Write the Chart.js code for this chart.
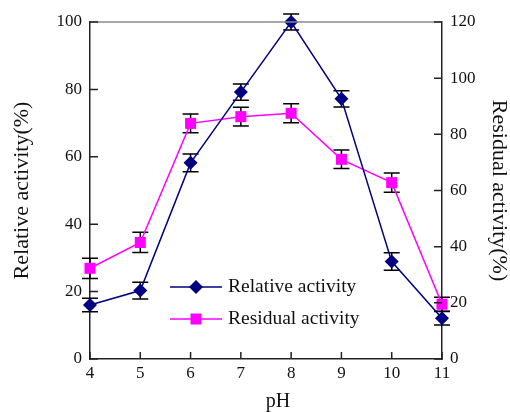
<!DOCTYPE html>
<html>
<head>
<meta charset="utf-8">
<script src="https://cdn.jsdelivr.net/npm/chart.js@4"></script>
<style>
  html, body { margin: 0; padding: 0; background: #fff; }
  #wrap { width: 510px; height: 412px; position: relative; }
</style>
</head>
<body>
<div id="wrap"><canvas id="chart"></canvas></div>
<script>
const phValues = [4, 5, 6, 7, 8, 9, 10, 11];
const relativeActivity = [16, 20.3, 58.2, 79.2, 100, 77.2, 28.9, 12.1];
const relativeError = [2.0, 2.5, 2.6, 2.4, 2.4, 2.4, 2.6, 2.0];
const residualActivity = [32.3, 41.5, 83.9, 86.3, 87.5, 71.1, 62.8, 19.5];
const residualError = [3.6, 3.6, 3.3, 3.3, 3.4, 3.3, 3.4, 2.5];
const leftTicks = [0, 20, 40, 60, 80, 100];
const rightTicks = [0, 20, 40, 60, 80, 100, 120];

const serif = "'Liberation Serif', 'Times New Roman', serif";
const navy = '#000080';
const magenta = '#FF00FF';

// error bars, drawn under the markers
const errorBars = {
  id: 'errorBars',
  beforeDatasetsDraw(chart) {
    const ctx = chart.ctx;
    ctx.save();
    ctx.strokeStyle = '#000';
    ctx.lineWidth = 1.5;
    chart.data.datasets.forEach((ds, di) => {
      const meta = chart.getDatasetMeta(di);
      const scale = chart.scales[ds.yAxisID];
      ds.data.forEach((p, i) => {
        const x = meta.data[i].x;
        const top = scale.getPixelForValue(p.y + ds.errors[i]);
        const bot = scale.getPixelForValue(p.y - ds.errors[i]);
        ctx.beginPath();
        ctx.moveTo(x, top); ctx.lineTo(x, bot);
        ctx.moveTo(x - 8, top); ctx.lineTo(x + 8, top);
        ctx.moveTo(x - 8, bot); ctx.lineTo(x + 8, bot);
        ctx.stroke();
      });
    });
    ctx.restore();
  }
};

// frame, inward tick marks and the pH title
const frame = {
  id: 'frame',
  afterDraw(chart) {
    const ctx = chart.ctx;
    const a = chart.chartArea;
    ctx.save();
    ctx.strokeStyle = '#888';
    ctx.lineWidth = 1.5;
    ctx.beginPath();
    ctx.moveTo(a.left, a.top); ctx.lineTo(a.right, a.top);
    ctx.stroke();
    ctx.strokeStyle = '#222';
    ctx.beginPath();
    phValues.forEach(v => {
      const x = chart.scales.x.getPixelForValue(v);
      ctx.moveTo(x, a.bottom); ctx.lineTo(x, a.bottom - 7);
    });
    leftTicks.forEach(v => {
      const y = chart.scales.y.getPixelForValue(v);
      ctx.moveTo(a.left, y); ctx.lineTo(a.left + 8, y);
    });
    rightTicks.forEach(v => {
      const y = chart.scales.y2.getPixelForValue(v);
      ctx.moveTo(a.right, y); ctx.lineTo(a.right - 8, y);
    });
    ctx.stroke();
    ctx.fillStyle = '#111';
    ctx.font = '20px ' + serif;
    ctx.textAlign = 'center';
    ctx.textBaseline = 'middle';
    ctx.fillText('pH', 278, 402);
    ctx.restore();
  }
};

// legend inside the plot
const innerLegend = {
  id: 'innerLegend',
  afterDraw(chart) {
    const ctx = chart.ctx;
    ctx.save();
    chart.data.datasets.forEach((ds, i) => {
      const y = 287 + i * 32;
      ctx.strokeStyle = ds.borderColor;
      ctx.lineWidth = 1.5;
      ctx.beginPath();
      ctx.moveTo(170, y); ctx.lineTo(222, y);
      ctx.stroke();
      ctx.fillStyle = ds.borderColor;
      ctx.beginPath();
      if (ds.pointStyle === 'rectRot') {
        ctx.moveTo(196, y - 7); ctx.lineTo(203, y); ctx.lineTo(196, y + 7); ctx.lineTo(189, y);
      } else {
        ctx.rect(190.5, y - 5.5, 11, 11);
      }
      ctx.closePath();
      ctx.fill();
      ctx.fillStyle = '#111';
      ctx.font = '19.5px ' + serif;
      ctx.textBaseline = 'middle';
      ctx.textAlign = 'left';
      ctx.fillText(ds.label, 228, y);
    });
    ctx.restore();
  }
};

new Chart(document.getElementById('chart'), {
  type: 'line',
  data: {
    datasets: [
      {
        label: 'Relative activity',
        data: phValues.map((x, i) => ({ x: x, y: relativeActivity[i] })),
        errors: relativeError,
        yAxisID: 'y',
        borderColor: navy,
        backgroundColor: navy,
        borderWidth: 1.5,
        pointStyle: 'rectRot',
        pointRadius: 7,
        pointBorderWidth: 0,
        tension: 0,
        clip: false
      },
      {
        label: 'Residual activity',
        data: phValues.map((x, i) => ({ x: x, y: residualActivity[i] })),
        errors: residualError,
        yAxisID: 'y2',
        borderColor: magenta,
        backgroundColor: magenta,
        borderWidth: 1.5,
        pointStyle: 'rect',
        pointRadius: 7.8,
        pointBorderWidth: 0,
        tension: 0,
        clip: false
      }
    ]
  },
  options: {
    responsive: true,
    maintainAspectRatio: false,
    animation: false,
    layout: { padding: { top: 22 } },
    plugins: {
      legend: { display: false },
      tooltip: { enabled: false }
    },
    scales: {
      x: {
        type: 'linear',
        min: 4,
        max: 11,
        afterBuildTicks: axis => { axis.ticks = phValues.map(v => ({ value: v })); },
        afterFit: s => { s.height = 53; },
        ticks: { color: '#111', font: { family: serif, size: 17 }, padding: 4 },
        grid: { drawOnChartArea: false, drawTicks: false },
        border: { display: true, color: '#222', width: 1.5 }
      },
      y: {
        position: 'left',
        min: 0,
        max: 100,
        afterBuildTicks: axis => { axis.ticks = leftTicks.map(v => ({ value: v })); },
        afterFit: s => { s.width = 90; },
        ticks: { color: '#111', font: { family: serif, size: 17 }, padding: 8 },
        grid: { drawOnChartArea: false, drawTicks: false },
        border: { display: true, color: '#222', width: 1.5 },
        title: { display: true, text: 'Relative activity(%)', color: '#111', font: { family: serif, size: 22, lineHeight: 1 }, padding: { top: 11, bottom: 0 } }
      },
      y2: {
        position: 'right',
        min: 0,
        max: 120,
        afterBuildTicks: axis => { axis.ticks = rightTicks.map(v => ({ value: v })); },
        afterFit: s => { s.width = 68; },
        ticks: { color: '#111', font: { family: serif, size: 17 }, padding: 8 },
        grid: { drawOnChartArea: false, drawTicks: false },
        border: { display: true, color: '#222', width: 1.5 },
        title: { display: true, text: 'Residual activity(%)', color: '#111', font: { family: serif, size: 22, lineHeight: 1 }, padding: { top: 0, bottom: 0 } }
      }
    }
  },
  plugins: [errorBars, frame, innerLegend]
});
</script>
</body>
</html>
